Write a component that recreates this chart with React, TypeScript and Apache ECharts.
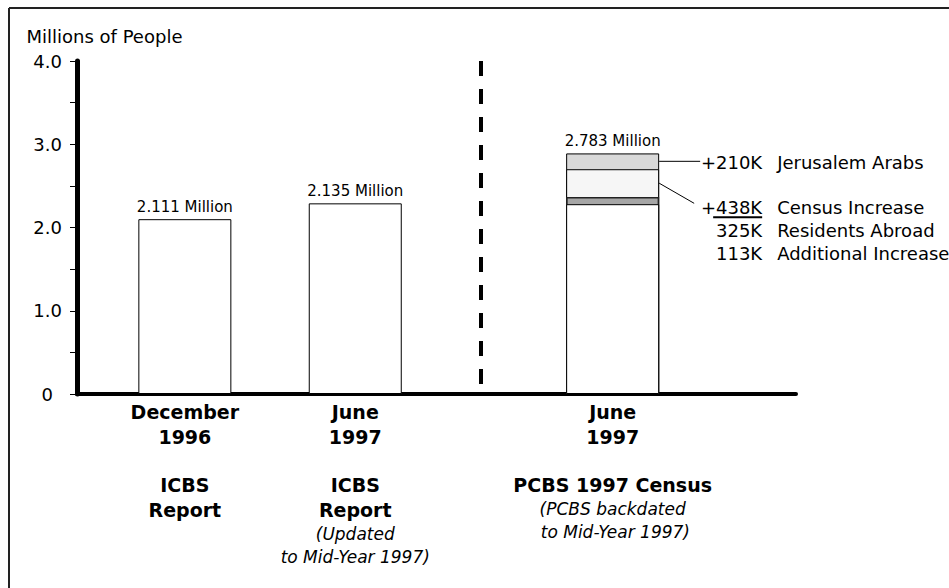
import React, { useEffect, useRef } from 'react';
import * as echarts from 'echarts';

// ---- data ----
const categoryPositions = [1.5, 3.87, 7.45];
const dividerPosition = 5.62;
const baseValues = [2.10, 2.29, 2.28];
const additionalIncrease = [0, 0, 0.085];
const residentsAbroad = [0, 0, 0.335];
const jerusalemArabs = [0, 0, 0.19];
const barLabels = ['2.111 Million', '2.135 Million', '2.783 Million'];
const categoryLabels = [
  '{b|December}\n{b|1996}\n{g| }\n{b|ICBS}\n{b|Report}',
  '{b|June}\n{b|1997}\n{g| }\n{b|ICBS}\n{b|Report}\n{i|(Updated}\n{i|to Mid-Year 1997)}',
  '{b|June}\n{b|1997}\n{g| }\n{b|PCBS 1997 Census}\n{i|(PCBS backdated}\n{i| to Mid-Year 1997)}',
];
const annotationAmounts = ['+210K', '+438K', '325K', '113K'];
const annotationLabels = ['Jerusalem Arabs', 'Census Increase', 'Residents Abroad', 'Additional Increase'];
const yTickLabels = ['0', '1.0', '2.0', '3.0', '4.0'];

const FONT = 'DejaVu Sans';

export default function App() {
  const ref = useRef<HTMLDivElement>(null);
  useEffect(() => {
    if (!ref.current) return;
    const chart = echarts.init(ref.current, null, { renderer: 'svg' });
    const BAR_W = 93;
    // cumulative tops of each layer (layers drawn overlapping, tallest first)
    const cumAdd = baseValues.map((b, i) => b + additionalIncrease[i]);
    const cumRes = cumAdd.map((b, i) => b + residentsAbroad[i]);
    const cumJer = cumRes.map((b, i) => b + jerusalemArabs[i]);
    const onlyStacked = (vals: number[]) =>
      categoryPositions.map((x, i) => [x, jerusalemArabs[i] + residentsAbroad[i] + additionalIncrease[i] > 0 ? vals[i] : '-']);
    const all = (vals: number[]) => categoryPositions.map((x, i) => [x, vals[i]]);
    const barCommon = { type: 'bar', barWidth: BAR_W, barGap: '-100%' };
    const labelCommon = { show: true, position: 'top', distance: 5, fontFamily: FONT, fontSize: 15, color: '#000' };

    chart.setOption({
      animation: false,
      backgroundColor: '#fff',
      grid: { left: 77, right: 153, top: 61, bottom: 194, containLabel: false },
      xAxis: {
        type: 'value',
        min: 0,
        max: 10,
        axisLine: { show: true, onZero: false, lineStyle: { color: '#000', width: 4 } },
        axisTick: { show: false },
        splitLine: { show: false },
        axisLabel: {
          customValues: categoryPositions,
          margin: 5,
          lineHeight: 23,
          color: '#000',
          fontFamily: FONT,
          formatter: (v: number) => {
            let best = 0;
            categoryPositions.forEach((p, i) => {
              if (Math.abs(p - v) < Math.abs(categoryPositions[best] - v)) best = i;
            });
            return categoryLabels[best];
          },
          rich: {
            b: { fontFamily: FONT, fontWeight: 'bold', fontSize: 19, lineHeight: 25, color: '#000' },
            i: { fontFamily: FONT, fontStyle: 'italic', fontSize: 17, lineHeight: 23, color: '#000' },
            g: { fontFamily: FONT, fontSize: 10, lineHeight: 23 },
          },
        },
      },
      yAxis: {
        type: 'value',
        min: 0,
        max: 4,
        interval: 0.5,
        name: 'Millions of People',
        nameLocation: 'end',
        nameGap: 16,
        nameTextStyle: {
          fontFamily: FONT,
          fontSize: 18,
          color: '#000',
          align: 'center',
          padding: [0, 0, 0, 55],
        },
        axisLine: { show: true, lineStyle: { color: '#000', width: 5 } },
        axisTick: { show: true, length: 7, lineStyle: { color: '#000', width: 1 } },
        splitLine: { show: false },
        axisLabel: {
          margin: 15,
          fontFamily: FONT,
          fontSize: 18,
          color: '#000',
          formatter: (v: number) => {
            if (Math.abs(v % 1) > 1e-9) return '';
            const idx = Math.round(v);
            return idx === 0 ? '{z|' + yTickLabels[0] + '}' : yTickLabels[idx];
          },
          rich: { z: { fontFamily: FONT, fontSize: 18, color: '#000', padding: [0, 9, 0, 0] } },
        },
      },
      series: [
        {
          ...barCommon,
          name: 'Jerusalem Arabs',
          data: onlyStacked(cumJer),
          itemStyle: { color: '#d9d9d9', borderColor: '#000', borderWidth: 1 },
          label: { ...labelCommon, formatter: (p: any) => barLabels[p.dataIndex] },
          markLine: {
            silent: true,
            symbol: ['none', 'none'],
            label: { show: false },
            lineStyle: { color: '#000', width: 4, type: [15, 13] },
            data: [[{ coord: [dividerPosition, 4] }, { coord: [dividerPosition, 0] }]],
          },
        },
        {
          ...barCommon,
          name: 'Residents Abroad',
          data: onlyStacked(cumRes),
          itemStyle: { color: '#f6f6f6', borderColor: '#000', borderWidth: 1 },
        },
        {
          ...barCommon,
          name: 'Additional Increase',
          data: onlyStacked(cumAdd),
          itemStyle: { color: '#a6a6a6', borderColor: '#222', borderWidth: 1.5 },
        },
        {
          ...barCommon,
          name: 'Reported',
          data: all(baseValues),
          itemStyle: { color: '#fff', borderColor: '#000', borderWidth: 1 },
          label: {
            ...labelCommon,
            formatter: (p: any) => (jerusalemArabs[p.dataIndex] > 0 ? '' : barLabels[p.dataIndex]),
          },
        },
      ],
    });

    // annotations placed from the chart's own scales
    const barRight = (chart.convertToPixel({ xAxisIndex: 0 }, categoryPositions[2]) as number) + BAR_W / 2;
    const py = (v: number) => chart.convertToPixel({ yAxisIndex: 0 }, v) as number;
    const y1 = py((cumRes[2] + cumJer[2]) / 2);
    const y2 = py((cumAdd[2] + cumRes[2]) / 2);
    const rows = [y1 + 1, y1 + 46, y1 + 69, y1 + 92];
    const amountRight = barRight + 103;
    const labelLeft = barRight + 118;
    const textStyle = { font: `18px "${FONT}"`, fill: '#000' };
    const graphics: any[] = [
      { type: 'line', shape: { x1: 9, y1: 8, x2: 949, y2: 8 }, style: { stroke: '#222', lineWidth: 2 }, silent: true },
      { type: 'line', shape: { x1: 9, y1: 8, x2: 9, y2: 588 }, style: { stroke: '#222', lineWidth: 2 }, silent: true },
      { type: 'line', shape: { x1: barRight, y1: y1, x2: barRight + 41, y2: y1 }, style: { stroke: '#000', lineWidth: 1 }, silent: true },
      { type: 'line', shape: { x1: barRight, y1: y2, x2: barRight + 35, y2: y1 + 42 }, style: { stroke: '#000', lineWidth: 1 }, silent: true },
      { type: 'line', shape: { x1: barRight + 54, y1: rows[1] + 10, x2: amountRight, y2: rows[1] + 10 }, style: { stroke: '#000', lineWidth: 2 }, silent: true },
    ];
    annotationAmounts.forEach((a, i) => {
      graphics.push({
        type: 'text',
        x: amountRight,
        y: rows[i],
        silent: true,
        style: { ...textStyle, text: a, textAlign: 'right', textVerticalAlign: 'middle' },
      });
      graphics.push({
        type: 'text',
        x: labelLeft,
        y: rows[i],
        silent: true,
        style: { ...textStyle, text: annotationLabels[i], textAlign: 'left', textVerticalAlign: 'middle' },
      });
    });
    chart.setOption({ graphic: graphics });

    return () => chart.dispose();
  }, []);
  return (
    <div
      ref={ref}
      style={{ position: 'fixed', left: 0, top: 0, width: 949, height: 588, background: '#fff' }}
    />
  );
}
